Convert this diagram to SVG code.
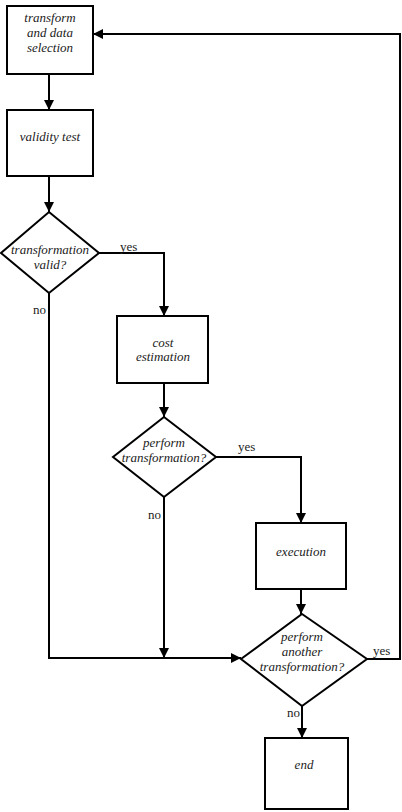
<svg xmlns="http://www.w3.org/2000/svg" width="402" height="812" viewBox="0 0 402 812">
<style>
.n{fill:#fff;stroke:#000;stroke-width:2}
.t{font-family:'Liberation Serif','Times New Roman','DejaVu Serif',serif;font-style:italic;font-size:13px;text-anchor:middle;fill:#222}
.l{font-family:'Liberation Serif','Times New Roman','DejaVu Serif',serif;font-size:13px;fill:#222}
.c{fill:none;stroke:#000;stroke-width:2}
</style>
<defs>
<marker id="a" markerWidth="10" markerHeight="10" refX="10" refY="5" orient="auto" markerUnits="userSpaceOnUse">
<path d="M0,0 L10,5 L0,10 Z" fill="#000"/>
</marker>
</defs>
<g id="connectors">
<path class="c" d="M49,74 V110" marker-end="url(#a)"/>
<path class="c" d="M49,176 V212" marker-end="url(#a)"/>
<path class="c" d="M99,253 H164 V316" marker-end="url(#a)"/>
<path class="c" d="M164,383 V417" marker-end="url(#a)"/>
<path class="c" d="M216,457 H301 V523" marker-end="url(#a)"/>
<path class="c" d="M301,589 V614" marker-end="url(#a)"/>
<path class="c" d="M49,293 V658 H241" marker-end="url(#a)"/>
<path class="c" d="M164,497 V658" marker-end="url(#a)"/>
<path class="c" d="M367,659 H400 V34 H93" marker-end="url(#a)"/>
<path class="c" d="M302,706 V738" marker-end="url(#a)"/>
<text class="l" x="120" y="251">yes</text>
<text class="l" x="33" y="314">no</text>
<text class="l" x="238" y="451">yes</text>
<text class="l" x="148" y="519">no</text>
<text class="l" x="373" y="655">yes</text>
<text class="l" x="287" y="717">no</text>
</g>
<g id="transform-select">
<rect class="n" x="7" y="6" width="86" height="68"/>
<text class="t" x="50" y="22">transform</text>
<text class="t" x="50" y="37">and data</text>
<text class="t" x="50" y="52">selection</text>
</g>
<g id="validity-test">
<rect class="n" x="7" y="110" width="86" height="66"/>
<text class="t" x="50" y="141">validity test</text>
</g>
<g id="valid-decision">
<polygon class="n" points="49,212 99,253 49,293 1,253"/>
<text class="t" x="50" y="254">transformation</text>
<text class="t" x="50" y="269">valid?</text>
</g>
<g id="cost-estimation">
<rect class="n" x="117" y="316" width="91" height="67"/>
<text class="t" x="163" y="347">cost</text>
<text class="t" x="163" y="361">estimation</text>
</g>
<g id="perform-decision">
<polygon class="n" points="164,417 216,457 164,497 113,457"/>
<text class="t" x="164" y="447">perform</text>
<text class="t" x="164" y="462">transformation?</text>
</g>
<g id="execution">
<rect class="n" x="256" y="523" width="90" height="66"/>
<text class="t" x="301" y="556">execution</text>
</g>
<g id="another-decision">
<polygon class="n" points="302,614 367,659 302,706 241,659"/>
<text class="t" x="302" y="641">perform</text>
<text class="t" x="302" y="656">another</text>
<text class="t" x="302" y="671">transformation?</text>
</g>
<g id="end">
<rect class="n" x="265" y="738" width="83" height="71"/>
<text class="t" x="304" y="769">end</text>
</g>
</svg>
